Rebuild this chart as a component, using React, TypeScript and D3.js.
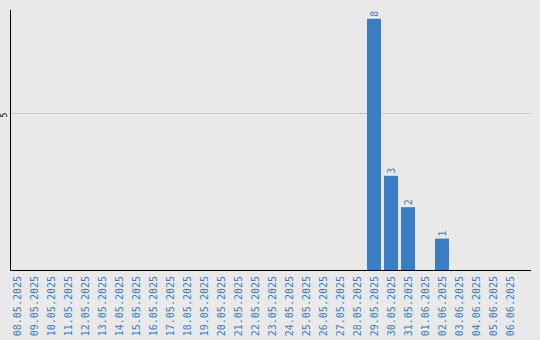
import React from "react";
import * as d3 from "d3";

// Daily counts, 08.05.2025 – 06.06.2025
const categories: string[] = [
  "08.05.2025", "09.05.2025", "10.05.2025", "11.05.2025", "12.05.2025",
  "13.05.2025", "14.05.2025", "15.05.2025", "16.05.2025", "17.05.2025",
  "18.05.2025", "19.05.2025", "20.05.2025", "21.05.2025", "22.05.2025",
  "23.05.2025", "24.05.2025", "25.05.2025", "26.05.2025", "27.05.2025",
  "28.05.2025", "29.05.2025", "30.05.2025", "31.05.2025", "01.06.2025",
  "02.06.2025", "03.06.2025", "04.06.2025", "05.06.2025", "06.06.2025",
];
const values: number[] = [
  0, 0, 0, 0, 0, 0, 0, 0, 0, 0,
  0, 0, 0, 0, 0, 0, 0, 0, 0, 0,
  0, 8, 3, 2, 0, 1, 0, 0, 0, 0,
];
const yTicks: number[] = [5];
const yMax = 8.28;

const W = 540;
const H = 340;
const BLUE = "#3a7dc4";
const MONO = "'DejaVu Sans Mono', 'Liberation Mono', monospace";

export default function App() {
  const left = 10.5;
  const right = 531;
  const top = 10;
  const bottom = 270;

  const x = d3
    .scaleBand<string>()
    .domain(categories)
    .range([8.5, 518.5])
    .paddingInner(3 / 17)
    .paddingOuter(3 / 34);
  const y = d3.scaleLinear().domain([0, yMax]).range([bottom, top]);

  return (
    <svg
      width={W}
      height={H}
      style={{ position: "absolute", left: 0, top: 0, display: "block" }}
    >
      <rect x={0} y={0} width={W} height={H} fill="#e9e9e9" />
      {yTicks.map((t) => (
        <g key={t}>
          <line
            x1={left}
            x2={right}
            y1={Math.round(y(t)) + 0.5}
            y2={Math.round(y(t)) + 0.5}
            stroke="#c8c8c8"
            strokeWidth={1}
          />
          <text
            transform={`translate(7.3,${y(t) + 2}) rotate(-90)`}
            textAnchor="middle"
            fontFamily={MONO}
            fontSize={8}
            fill="#000"
          >
            {t}
          </text>
        </g>
      ))}
      {categories.map((c, i) => {
        const v = values[i];
        const bx = x(c) as number;
        const cx = bx + x.bandwidth() / 2;
        return (
          <g key={c}>
            {v > 0 && (
              <>
                <rect
                  x={bx}
                  y={y(v)}
                  width={x.bandwidth()}
                  height={y(0) - y(v)}
                  fill={BLUE}
                />
                <text
                  transform={`translate(${cx + 3.8},${y(v) - 2}) rotate(-90)`}
                  textAnchor="start"
                  fontFamily={MONO}
                  fontSize={10}
                  fill={BLUE}
                >
                  {v}
                </text>
              </>
            )}
            <text
              transform={`translate(${cx + 3.8},276) rotate(-90)`}
              textAnchor="end"
              fontFamily={MONO}
              fontSize={10}
              fill={BLUE}
            >
              {c}
            </text>
          </g>
        );
      })}
      <line x1={left} x2={left} y1={top} y2={bottom + 0.5} stroke="#000" strokeWidth={1} />
      <line x1={left} x2={right} y1={bottom + 0.5} y2={bottom + 0.5} stroke="#000" strokeWidth={1} />
    </svg>
  );
}
